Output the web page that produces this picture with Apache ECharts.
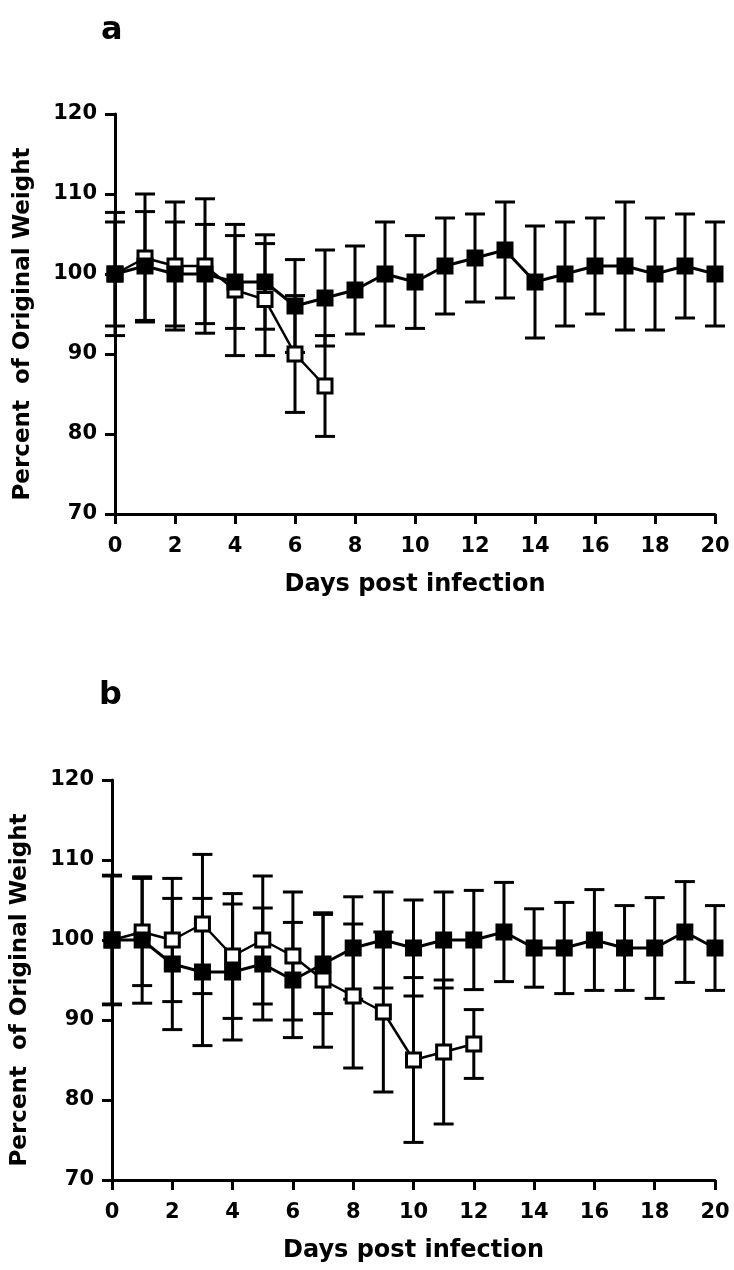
<!DOCTYPE html>
<html>
<head>
<meta charset="utf-8">
<script src="https://cdn.jsdelivr.net/npm/echarts@6/dist/echarts.min.js"></script>
<style>
html,body{margin:0;padding:0;background:#fff;}
#chart{width:734px;height:1270px;}
</style>
</head>
<body>
<div id="chart"></div>
<script>
// ---- Data ----
const xTicks = [0, 2, 4, 6, 8, 10, 12, 14, 16, 18, 20];
const yTicks = [70, 80, 90, 100, 110, 120];
const panelLabels = ['a', 'b'];
const xTitle = 'Days post infection';
const yTitle = 'Percent  of Original Weight';

// Panel a
const aFilledDays = [0,1,2,3,4,5,6,7,8,9,10,11,12,13,14,15,16,17,18,19,20];
const aFilledMean = [100,101,100,100,99,99,96,97,98,100,99,101,102,103,99,100,101,101,100,101,100];
const aFilledErr  = [7.7,6.8,6.5,6.2,5.8,5.9,5.8,6,5.5,6.5,5.8,6,5.5,6,7,6.5,6,8,7,6.5,6.5];
const aOpenDays = [0,1,2,3,4,5,6,7];
const aOpenMean = [100,102,101,101,98,96.8,90,86];
const aOpenErr  = [6.5,8,8,8.4,8.2,7,7.3,6.3];

// Panel b
const bFilledDays = [0,1,2,3,4,5,6,7,8,9,10,11,12,13,14,15,16,17,18,19,20];
const bFilledMean = [100,100,97,96,96,97,95,97,99,100,99,100,100,101,99,99,100,99,99,101,99];
const bFilledErr  = [8.1,7.9,8.2,9.2,8.5,7,7.2,6.2,6.4,6,6,6,6.2,6.2,4.9,5.7,6.3,5.3,6.3,6.3,5.3];
const bOpenDays = [0,1,2,3,4,5,6,7,8,9,10,11,12];
const bOpenMean = [100,101,100,102,98,100,98,95,93,91,85,86,87];
const bOpenErr  = [8,6.7,7.7,8.7,7.8,8,8,8.4,9,10,10.3,9,4.3];

// ---- Helpers ----
const FONT = 'DejaVu Sans';
function pts(days, mean){ return days.map((d,i)=>[d, mean[i]]); }
function errs(days, mean, err){ return days.map((d,i)=>[d, mean[i]-err[i], mean[i]+err[i]]); }

function errRender(params, api){
  const x = api.value(0), lo = api.value(1), hi = api.value(2);
  const pHi = api.coord([x, hi]);
  const pLo = api.coord([x, lo]);
  const hw = 10;
  const st = {stroke:'#000', lineWidth:3};
  return {type:'group', children:[
    {type:'line', shape:{x1:pHi[0], y1:pHi[1], x2:pLo[0], y2:pLo[1]}, style:st},
    {type:'line', shape:{x1:pHi[0]-hw, y1:pHi[1], x2:pHi[0]+hw, y2:pHi[1]}, style:st},
    {type:'line', shape:{x1:pLo[0]-hw, y1:pLo[1], x2:pLo[0]+hw, y2:pLo[1]}, style:st}
  ]};
}

function xAxisCfg(gi){
  return {
    type:'value', gridIndex:gi, min:xTicks[0], max:xTicks[xTicks.length-1], interval:2,
    name:xTitle, nameLocation:'middle', nameGap:59,
    nameTextStyle:{fontFamily:FONT, fontWeight:'bold', fontSize:24, color:'#000'},
    axisLine:{lineStyle:{color:'#000', width:3}},
    axisTick:{length:10, lineStyle:{color:'#000', width:3}},
    axisLabel:{fontFamily:FONT, fontWeight:'bold', fontSize:21, color:'#000', margin:22},
    splitLine:{show:false}
  };
}
function yAxisCfg(gi){
  return {
    type:'value', gridIndex:gi, min:yTicks[0], max:yTicks[yTicks.length-1], interval:10,
    name:yTitle, nameLocation:'middle', nameGap:80, nameRotate:90,
    nameTextStyle:{fontFamily:FONT, fontWeight:'bold', fontSize:23, color:'#000', padding:[0,0,0,-20]},
    axisLine:{show:true, lineStyle:{color:'#000', width:3}},
    axisTick:{show:true, length:10, lineStyle:{color:'#000', width:3}},
    axisLabel:{fontFamily:FONT, fontWeight:'bold', fontSize:21, color:'#000', margin:18},
    splitLine:{show:false}
  };
}
function errSeries(gi, data){
  return {type:'custom', xAxisIndex:gi, yAxisIndex:gi, renderItem:errRender, data:data,
    encode:{x:0, y:[1,2]}, z:1, silent:true};
}
function lineSeries(gi, data, open){
  return {type:'line', xAxisIndex:gi, yAxisIndex:gi, data:data,
    symbol:'rect', symbolSize: open ? 14 : 17, showAllSymbol:true,
    lineStyle:{color:'#000', width: open ? 2.5 : 3},
    itemStyle: open ? {color:'#fff', borderColor:'#000', borderWidth:3}
                    : {color:'#000', borderColor:'#000', borderWidth:0},
    z: open ? 2 : 3, silent:true, animation:false};
}

const chart = echarts.init(document.getElementById('chart'), null, {renderer:'canvas'});
chart.setOption({
  animation:false,
  backgroundColor:'#fff',
  grid:[
    {left:115, top:114, width:600, height:400},
    {left:112, top:780, width:603, height:400}
  ],
  xAxis:[xAxisCfg(0), xAxisCfg(1)],
  yAxis:[yAxisCfg(0), yAxisCfg(1)],
  graphic:[
    {type:'text', left:101, top:15, style:{text:panelLabels[0], fontFamily:FONT, fontWeight:'bold', fontSize:32, fill:'#000'}},
    {type:'text', left:99, top:680, style:{text:panelLabels[1], fontFamily:FONT, fontWeight:'bold', fontSize:32, fill:'#000'}}
  ],
  series:[
    errSeries(0, errs(aOpenDays, aOpenMean, aOpenErr)),
    errSeries(0, errs(aFilledDays, aFilledMean, aFilledErr)),
    lineSeries(0, pts(aOpenDays, aOpenMean), true),
    lineSeries(0, pts(aFilledDays, aFilledMean), false),
    errSeries(1, errs(bOpenDays, bOpenMean, bOpenErr)),
    errSeries(1, errs(bFilledDays, bFilledMean, bFilledErr)),
    lineSeries(1, pts(bOpenDays, bOpenMean), true),
    lineSeries(1, pts(bFilledDays, bFilledMean), false)
  ]
});
</script>
</body>
</html>
